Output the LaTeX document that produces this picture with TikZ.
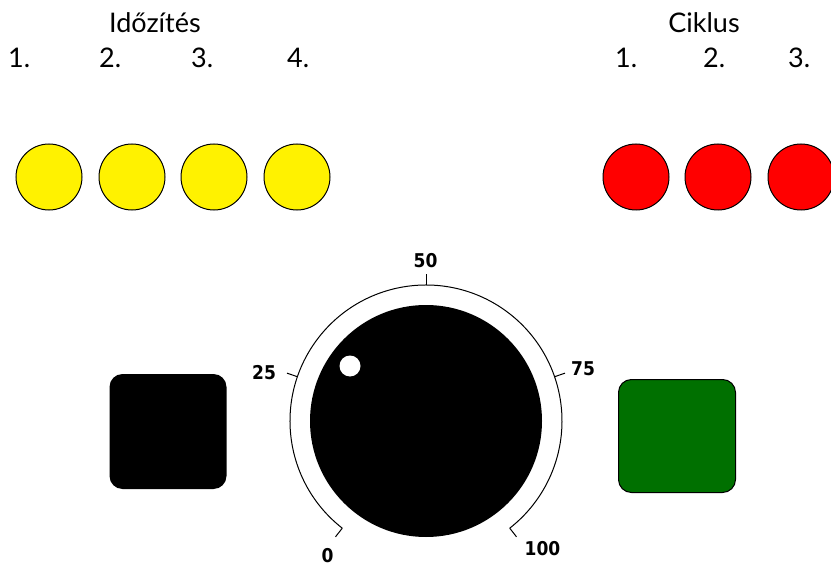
\documentclass[tikz,border=0pt]{standalone}
\usepackage{fontspec}
\setmainfont{Lato}
\newfontfamily\dialfont{DejaVu Sans Condensed}
\definecolor{btngreen}{RGB}{0,112,0}
\begin{document}
\begin{tikzpicture}[x=1pt,y=-1pt,
  lamp/.style={circle,draw=black,line width=1pt,minimum size=66pt,inner sep=0pt},
  title/.style={font=\fontsize{27}{32}\selectfont,anchor=base,inner sep=0pt},
  num/.style={font=\fontsize{27}{32}\selectfont,anchor=base west,inner sep=0pt},
  scalelbl/.style={font=\dialfont\bfseries\fontsize{19}{22}\selectfont,inner sep=0pt},
  btn/.style={rounded corners=13pt,minimum width=117pt,minimum height=115pt,inner sep=0pt}
  ]
\useasboundingbox (0,0) rectangle (831,567);
% titles
\node[title] (t1) at (155,33) {Időzítés};
\node[title] (t2) at (704,33) {Ciklus};
\node[num] (n1) at (8,68) {1.};
\node[num] (n2) at (99,68) {2.};
\node[num] (n3) at (191,68) {3.};
\node[num] (n4) at (287,68) {4.};
\node[num] (m1) at (615,68) {1.};
\node[num] (m2) at (703,68) {2.};
\node[num] (m3) at (788,68) {3.};
% lamps
\node[lamp,fill=yellow] (y1) at (49,177) {};
\node[lamp,fill=yellow] (y2) at (132,177) {};
\node[lamp,fill=yellow] (y3) at (214,177) {};
\node[lamp,fill=yellow] (y4) at (297,177) {};
\node[lamp,fill=red] (r1) at (636,177) {};
\node[lamp,fill=red] (r2) at (718,177) {};
\node[lamp,fill=red] (r3) at (801,177) {};
% dial
\coordinate (c) at (426,421);
\draw[line width=1pt] ([shift={(-232:136)}]c) arc[start angle=-232,end angle=52,radius=136];
\foreach \a in {232,161,90,19,-52}
  \draw[line width=1pt] ([shift={(-\a:136)}]c) -- ([shift={(-\a:147)}]c);
\node[circle,fill=black,minimum size=232pt,inner sep=0pt] (knob) at (c) {};
\node[circle,fill=white,minimum size=21pt,inner sep=0pt] (dot) at (350,366) {};
\node[scalelbl] (l0) at (327.5,555.5) {0};
\node[scalelbl] (l25) at (264,372.5) {25};
\node[scalelbl] (l50) at (425.5,260.5) {50};
\node[scalelbl] (l75) at (583,369) {75};
\node[scalelbl] (l100) at (542.5,548.5) {100};
% buttons
\node[btn,fill=black] (stop) at (168,431.5) {};
\node[btn,fill=btngreen,draw=black,line width=1pt,minimum width=117pt,minimum height=113pt] (go) at (677,436) {};
\end{tikzpicture}
\end{document}
